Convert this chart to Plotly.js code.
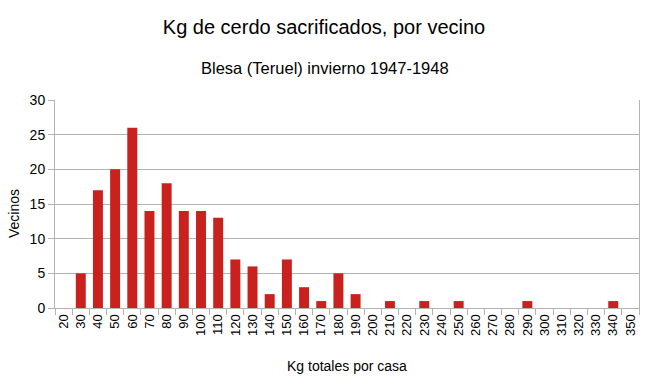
<!DOCTYPE html>
<html><head><meta charset="utf-8">
<script src="https://cdn.plot.ly/plotly-3.0.1.min.js"></script>
<style>html,body{margin:0;padding:0;background:#fff}</style>
</head><body><div id="chart" style="width:648px;height:385px"></div>
<script>
const categories = ["20","30","40","50","60","70","80","90","100","110","120","130","140","150","160","170","180","190","200","210","220","230","240","250","260","270","280","290","300","310","320","330","340","350"];
const vecinos = [0,5,17,20,26,14,18,14,14,13,7,6,2,7,3,1,5,2,0,1,0,1,0,1,0,0,0,1,0,0,0,0,1,0];

const font = "Liberation Sans, Arial, sans-serif";
Plotly.newPlot('chart', [{
  type: 'bar', x: categories, y: vecinos,
  marker: {color: '#c9211e'}, hoverinfo: 'x+y'
}], {
  width: 648, height: 385,
  margin: {l: 55, r: 9, t: 100, b: 77},
  paper_bgcolor: '#fff', plot_bgcolor: '#fff',
  bargap: 0.42,
  font: {family: font, color: '#000', size: 13},
  title: {text: 'Kg de cerdo sacrificados, por vecino', x: 0.5, xanchor: 'center', y: 0.93, yanchor: 'middle', font: {size: 20, family: font}},
  annotations: [
    {text: 'Blesa (Teruel) invierno 1947-1948', xref: 'paper', yref: 'paper', x: 0.462, y: 1, xanchor: 'center', yanchor: 'middle', yshift: 32, showarrow: false, font: {size: 16.5, family: font}},
    {text: 'Vecinos', textangle: -90, xref: 'paper', yref: 'paper', x: 0, y: 0.5, xanchor: 'center', yanchor: 'middle', xshift: -41, yshift: -10, showarrow: false, font: {size: 14, family: font}},
    {text: 'Kg totales por casa', xref: 'paper', yref: 'paper', x: 0.5, y: 0, xanchor: 'center', yanchor: 'middle', yshift: -58, showarrow: false, font: {size: 14, family: font}}
  ],
  xaxis: {
    type: 'category', tickangle: -90, ticks: 'outside', tickson: 'boundaries', ticklen: 6, tickcolor: '#b3b3b3',
    showline: true, linecolor: '#b3b3b3', showgrid: false, tickfont: {size: 13}
  },
  yaxis: {
    range: [0, 30], dtick: 5, ticks: 'outside', ticklen: 6, tickcolor: '#b3b3b3',
    showline: true, mirror: true, linecolor: '#b3b3b3', gridcolor: '#b3b3b3', zeroline: false, tickfont: {size: 14}
  },
  showlegend: false
}, {displayModeBar: false});
</script></body></html>
